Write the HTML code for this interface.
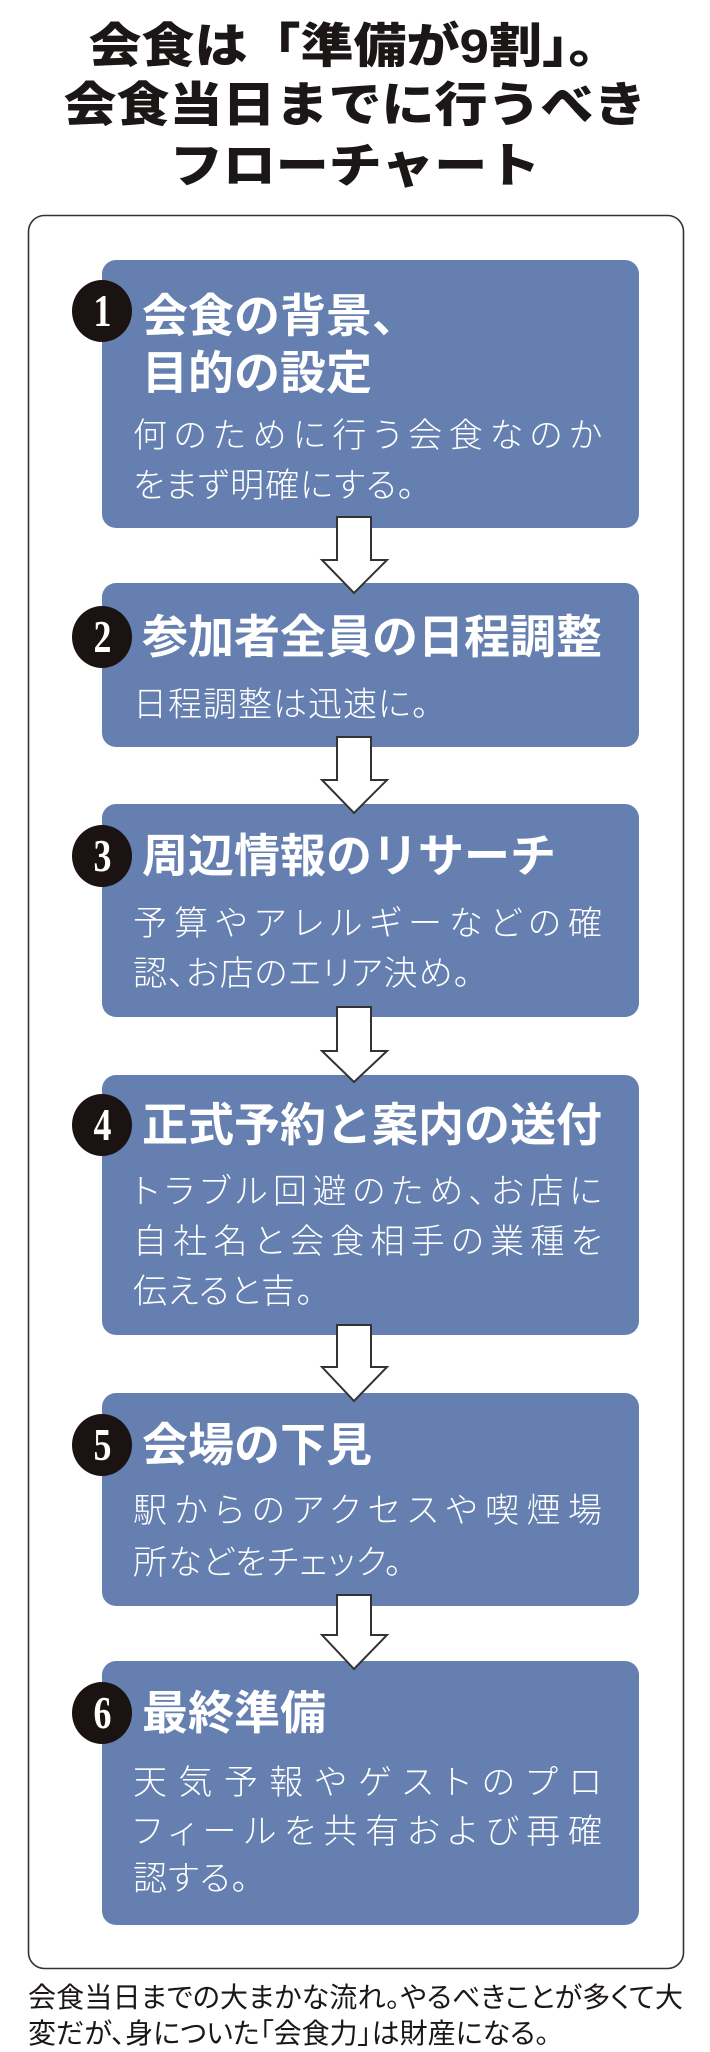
<!DOCTYPE html>
<html><head><meta charset="utf-8">
<style>
html,body{margin:0;padding:0;background:#fff;}
body{width:710px;height:2049px;position:relative;overflow:hidden;font-family:"Liberation Sans","Noto Sans CJK JP",sans-serif;}
.t{position:absolute;left:0;width:710px;text-align:center;font-weight:900;font-size:53px;line-height:60px;color:#1b1716;transform:scaleY(0.9);white-space:nowrap;}
.box{position:absolute;left:102px;width:537px;background:#6580b0;border-radius:14px;}
.h{position:absolute;left:142px;color:#fff;font-weight:700;font-size:46px;line-height:56px;white-space:nowrap;}
.b{position:absolute;left:133px;width:469px;color:#fff;font-weight:300;font-size:34px;line-height:44px;white-space:nowrap;letter-spacing:1px;font-feature-settings:"palt";}
.j{text-align:justify;text-align-last:justify;letter-spacing:0;}
.c{position:absolute;left:72px;width:60px;height:62px;border-radius:50%;background:#1a1311;color:#fff;font-family:"Liberation Serif",serif;font-weight:700;font-size:46px;line-height:62px;text-align:center;}
.c span{display:inline-block;transform:scaleX(0.78);}
.cap{position:absolute;left:28px;width:655px;font-size:28px;line-height:36px;color:#1b1716;white-space:nowrap;font-feature-settings:"palt";}
</style></head><body>
<div class="t" style="top:17px">会食は「準備が9割」。</div>
<div class="t" style="top:76px">会食当日までに行うべき</div>
<div class="t" style="top:137px">フローチャート</div>

<svg style="position:absolute;left:0;top:0" width="710" height="2049">
<rect x="28.5" y="215.5" width="655" height="1753" rx="16" ry="16" fill="none" stroke="#333" stroke-width="1.6"/>
</svg>

<div class="box" style="top:260px;height:268px"></div>
<div class="box" style="top:583px;height:164px"></div>
<div class="box" style="top:804px;height:213px"></div>
<div class="box" style="top:1075px;height:260px"></div>
<div class="box" style="top:1393px;height:213px"></div>
<div class="box" style="top:1661px;height:264px"></div>

<svg style="position:absolute;left:0;top:0" width="710" height="2049">
<g fill="#fff" stroke="#333" stroke-width="2" stroke-linejoin="miter">
<polygon points="337,517 371,517 371,560 387,560 354,593 322,560 337,560"/>
<polygon points="337,737 371,737 371,780 387,780 354,813 322,780 337,780"/>
<polygon points="337,1007 371,1007 371,1051 387,1051 354,1082 322,1051 337,1051"/>
<polygon points="337,1325 371,1325 371,1367 387,1367 354,1401 322,1367 337,1367"/>
<polygon points="337,1595 371,1595 371,1635 387,1635 354,1669 322,1635 337,1635"/>
</g>
</svg>

<div class="c" style="top:280px"><span>1</span></div>
<div class="h" style="top:288px">会食の背景、</div>
<div class="h" style="top:345px">目的の設定</div>
<div class="b j" style="top:414px">何のために行う会食なのか</div>
<div class="b" style="top:464px">をまず明確にする。</div>

<div class="c" style="top:606px"><span>2</span></div>
<div class="h" style="top:609px">参加者全員の日程調整</div>
<div class="b" style="top:683px">日程調整は迅速に。</div>

<div class="c" style="top:825px"><span>3</span></div>
<div class="h" style="top:828px">周辺情報のリサーチ</div>
<div class="b j" style="top:902px">予算やアレルギーなどの確</div>
<div class="b" style="top:952px">認、お店のエリア決め。</div>

<div class="c" style="top:1094px"><span>4</span></div>
<div class="h" style="top:1097px">正式予約と案内の送付</div>
<div class="b j" style="top:1170px">トラブル回避のため、お店に</div>
<div class="b j" style="top:1220px">自社名と会食相手の業種を</div>
<div class="b" style="top:1270px">伝えると吉。</div>

<div class="c" style="top:1414px"><span>5</span></div>
<div class="h" style="top:1417px">会場の下見</div>
<div class="b j" style="top:1489px">駅からのアクセスや喫煙場</div>
<div class="b" style="top:1541px">所などをチェック。</div>

<div class="c" style="top:1682px"><span>6</span></div>
<div class="h" style="top:1685px">最終準備</div>
<div class="b j" style="top:1761px">天気予報やゲストのプロ</div>
<div class="b j" style="top:1810px">フィールを共有および再確</div>
<div class="b" style="top:1857px">認する。</div>

<div class="cap j" style="top:1980px">会食当日までの大まかな流れ。やるべきことが多くて大</div>
<div class="cap" style="top:2016px">変だが、身についた「会食力」は財産になる。</div>
</body></html>
